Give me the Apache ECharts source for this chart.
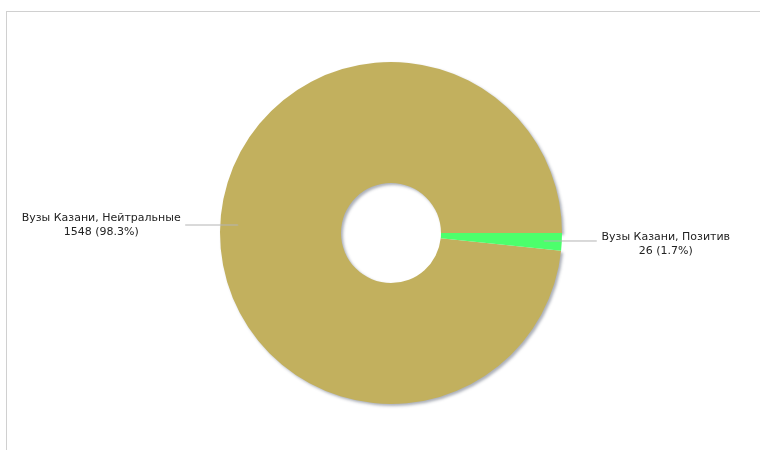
<!DOCTYPE html>
<html>
<head>
<meta charset="utf-8">
<script src="https://cdn.jsdelivr.net/npm/echarts@6/dist/echarts.min.js"></script>
<style>
  html, body { margin: 0; padding: 0; background: #fff; }
  #chart { width: 760px; height: 450px; }
</style>
</head>
<body>
<div id="chart"></div>
<script>
// данные
const names = ['Вузы Казани, Нейтральные', 'Вузы Казани, Позитив'];
const values = [1548, 26];
const percents = ['98.3%', '1.7%'];
const colors = ['#c2b05e', '#4cff6c'];
const boxWidths = [160, 130];
const labelPads = [[0, 0, 0, 0], [7, 0, 0, 0]];

const total = values.reduce((a, b) => a + b, 0);
// позитив начинается ровно на 3 часа
const startAngle = 360 * values[0] / total;

const shadow = {
  shadowColor: 'rgba(70, 80, 100, 0.45)',
  shadowBlur: 3,
  shadowOffsetX: 2,
  shadowOffsetY: 2
};

const slices = names.map((n, i) => ({
  name: n,
  value: values[i],
  itemStyle: Object.assign({ color: colors[i] }, i === 0 ? shadow : {})
}));

const labelSlices = names.map((n, i) => ({
  name: n,
  value: values[i],
  label: {
    padding: labelPads[i],
    formatter: '{t|' + n + '}\n{t|' + values[i] + ' (' + percents[i] + ')}',
    rich: {
      t: {
        width: boxWidths[i],
        align: 'center',
        fontFamily: 'DejaVu Sans',
        fontSize: 11,
        lineHeight: 14,
        color: '#222'
      }
    }
  }
}));

const chart = echarts.init(document.getElementById('chart'));
chart.setOption({
  animation: false,
  backgroundColor: '#fff',
  graphic: [
    { type: 'line', shape: { x1: 6, y1: 11.5, x2: 760, y2: 11.5 }, style: { stroke: '#d0d0d0', lineWidth: 1 } },
    { type: 'line', shape: { x1: 6.5, y1: 11, x2: 6.5, y2: 450 }, style: { stroke: '#d0d0d0', lineWidth: 1 } }
  ],
  series: [
    {
      type: 'pie',
      z: 2,
      center: [391, 233],
      radius: [50, 171],
      startAngle: startAngle,
      clockwise: true,
      silent: true,
      label: { show: false },
      labelLine: { show: false },
      data: slices
    },
    {
      // прозрачный круг только для подписей и линий поверх кольца
      type: 'pie',
      z: 5,
      center: [391, 233],
      radius: [0, 153],
      startAngle: startAngle,
      clockwise: true,
      silent: true,
      avoidLabelOverlap: false,
      itemStyle: { color: 'rgba(0,0,0,0)' },
      label: { show: true, position: 'outside', distanceToLabelLine: 4 },
      labelLine: {
        show: true,
        length: 1,
        length2: 52,
        smooth: false,
        lineStyle: { color: '#b4b4b4', width: 1 }
      },
      data: labelSlices
    }
  ]
});
</script>
</body>
</html>
